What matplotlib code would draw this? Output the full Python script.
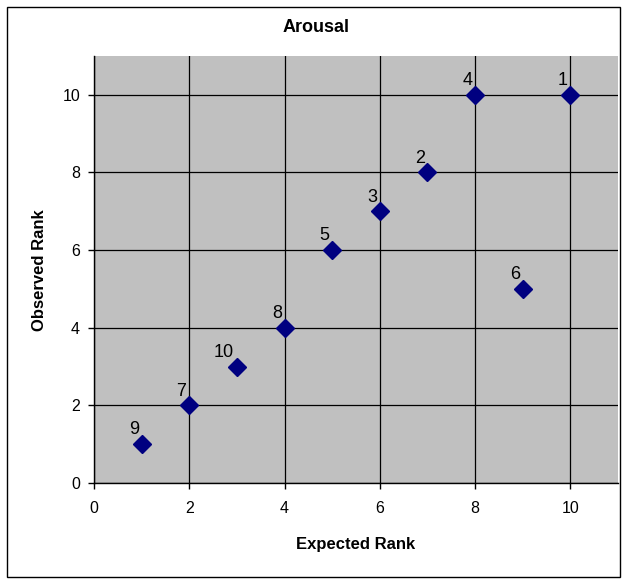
import matplotlib
matplotlib.use("Agg")
import matplotlib.pyplot as plt
from matplotlib.patches import Rectangle

# expected rank, observed rank, point label
expected = [1, 2, 3, 4, 5, 6, 7, 8, 9, 10]
observed = [1, 2, 3, 4, 6, 7, 8, 10, 5, 10]
labels = ["9", "7", "10", "8", "5", "3", "2", "4", "6", "1"]

plt.rcParams["font.family"] = ["Liberation Sans", "DejaVu Sans"]

W, H = 624, 580
fig = plt.figure(figsize=(W / 100, H / 100), dpi=100)
fig.patch.set_facecolor("white")

# outer chart border
fig.add_artist(Rectangle((7 / W, 1 - 577 / H), 613 / W, 570 / H,
                         transform=fig.transFigure, fill=False,
                         edgecolor="black", linewidth=1))

ax = fig.add_axes([94 / W, 1 - 483 / H, 524 / W, 427 / H])
ax.set_facecolor("#C0C0C0")
ax.set_xlim(0, 11)
ax.set_ylim(0, 11)
ax.set_xticks(range(0, 11, 2))
ax.set_yticks(range(0, 11, 2))
ax.grid(True, color="black", linewidth=0.9)
ax.set_axisbelow(True)

for side in ("top", "right"):
    ax.spines[side].set_visible(False)
for side in ("left", "bottom"):
    ax.spines[side].set_color("black")
    ax.spines[side].set_linewidth(1)

ax.tick_params(direction="out", length=4, width=1, labelsize=11.5)
ax.tick_params(axis="x", pad=9)
ax.tick_params(axis="y", pad=6)

ax.plot(expected, observed, "D", color="#000080", markersize=8.7, linestyle="none", zorder=5,
        clip_on=False)
for x, y, lab in zip(expected, observed, labels):
    ax.annotate(lab, (x, y), xytext=(-2, 7), textcoords="offset points",
                ha="right", va="baseline", fontsize=13, zorder=6)

fig.text(316 / W, 1 - 28 / H, "Arousal", ha="center", va="center",
         fontsize=13, fontweight="bold")
fig.text(356 / W, 1 - 544 / H, "Expected Rank", ha="center", va="center",
         fontsize=12, fontweight="bold")
fig.text(40 / W, 1 - 270 / H, "Observed Rank", ha="center", va="center",
         rotation=90, fontsize=12, fontweight="bold")

fig.savefig("out.png", dpi=100)
